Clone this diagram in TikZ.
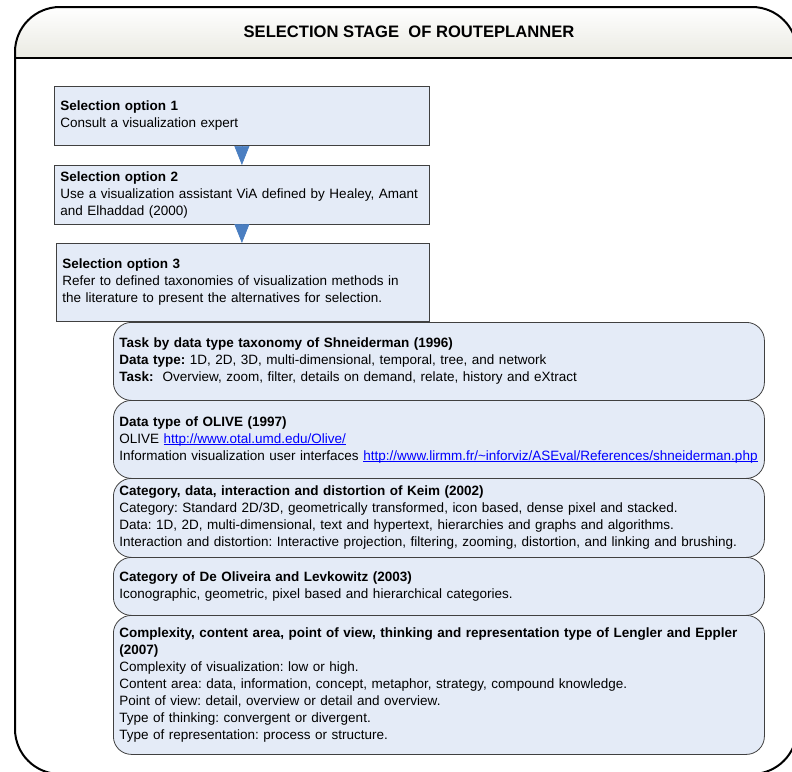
\documentclass[tikz,border=0pt]{standalone}
\usepackage{fontspec}
\setmainfont{Liberation Sans}
\usetikzlibrary{arrows.meta}
\definecolor{boxfill}{RGB}{228,235,247}
\definecolor{boxline}{RGB}{64,64,64}
\definecolor{arrowblue}{RGB}{74,126,193}
\definecolor{linkblue}{RGB}{0,0,255}
\definecolor{headfill}{RGB}{234,234,226}
\newcommand\lnk[1]{\textcolor{linkblue}{\underline{\smash{#1}}}}
\begin{document}
\frenchspacing
\begin{tikzpicture}[x=1pt,y=-1pt,
  selbox/.style={draw=boxline, fill=boxfill, line width=0.8pt, anchor=north west,
    align=left, inner xsep=6pt, inner ysep=0pt, font=\fontsize{13.5}{17}\selectfont},
  taxbox/.style={selbox, rounded corners=18pt, text width=639pt},
  flowarrow/.style={draw=arrowblue, line width=0.6pt, -{Triangle[width=15pt,length=19pt]}, arrowblue},
  frame/.style={line width=2pt, rounded corners=45pt}]
\useasboundingbox (0,0) rectangle (792,771);
% outer frame and header
\begin{scope}
  \clip[rounded corners=45pt] (15,7) rectangle (797,774);
  \shade[top color=white, bottom color=headfill] (15,7) rectangle (797,58);
\end{scope}
\draw[line width=2pt] (15,58) -- (797,58);
\draw[frame] (15,7) rectangle (797,774);
\node[font=\bfseries\fontsize{16.6}{20}\selectfont] (title) at (409,32) {SELECTION STAGE\ \ OF ROUTEPLANNER};
% selection options
\node[selbox, text width=363pt, minimum height=59pt] (s1) at (54,86)
  {\textbf{Selection option 1}\\Consult a visualization expert};
\node[selbox, text width=363pt, minimum height=59pt] (s2) at (54,165)
  {\textbf{Selection option 2}\\\mbox{Use a visualization assistant ViA defined by Healey, Amant}\\and Elhaddad (2000)};
\node[selbox, text width=361pt, minimum height=78pt] (s3) at (56,243)
  {\textbf{Selection option 3}\\Refer to defined taxonomies of visualization methods in\\the literature to present the alternatives for selection.};
\draw[flowarrow] (s1.south) -- (s2.north);
\draw[flowarrow] (s2.south) -- (s2.south |- s3.north);
% taxonomies
\node[taxbox, minimum height=78pt] (t1) at (113,322)
  {\textbf{Task by data type taxonomy of Shneiderman (1996)}\\
   \textbf{Data type:} 1D, 2D, 3D, multi-dimensional, temporal, tree, and network\\
   \textbf{Task:}\ \ Overview, zoom, filter, details on demand, relate, history and eXtract};
\node[taxbox, minimum height=78pt] (t2) at (113,400)
  {\textbf{Data type of OLIVE (1997)}\\
   OLIVE \lnk{http://www.otal.umd.edu/Olive/}\\
   Information visualization user interfaces \lnk{http://www.lirmm.fr/\textasciitilde inforviz/ASEval/References/shneiderman.php}};
\node[taxbox, minimum height=79pt] (t3) at (113,478)
  {\textbf{Category, data, interaction and distortion of Keim (2002)}\\
   Category: Standard 2D/3D, geometrically transformed, icon based, dense pixel and stacked.\\
   Data: 1D, 2D, multi-dimensional, text and hypertext, hierarchies and graphs and algorithms.\\
   Interaction and distortion: Interactive projection, filtering, zooming, distortion, and linking and brushing.};
\node[taxbox, minimum height=58pt] (t4) at (113,557)
  {\textbf{Category of De Oliveira and Levkowitz (2003)}\\
   Iconographic, geometric, pixel based and hierarchical categories.};
\node[taxbox, minimum height=139pt] (t5) at (113,615)
  {\textbf{Complexity, content area, point of view, thinking and representation type of Lengler and Eppler}\\
   \textbf{(2007)}\\
   Complexity of visualization: low or high.\\
   Content area: data, information, concept, metaphor, strategy, compound knowledge.\\
   Point of view: detail, overview or detail and overview.\\
   Type of thinking: convergent or divergent.\\
   Type of representation: process or structure.};
\end{tikzpicture}
\end{document}
